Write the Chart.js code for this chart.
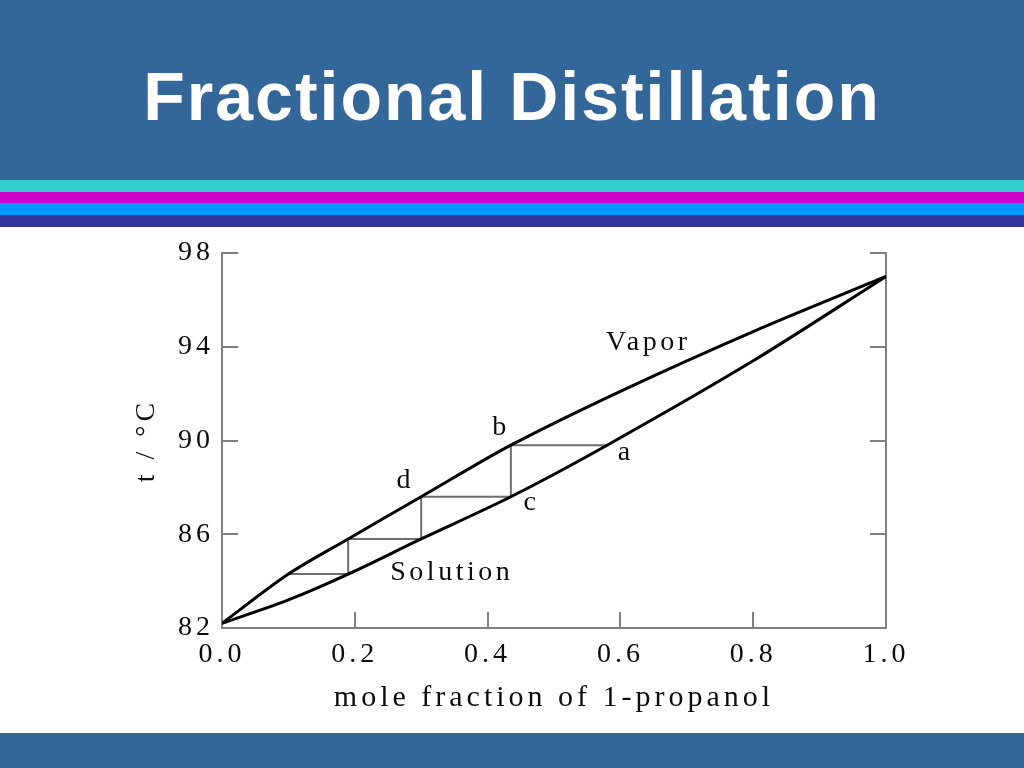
<!DOCTYPE html>
<html>
<head>
<meta charset="utf-8">
<title>Fractional Distillation</title>
<script src="https://cdn.jsdelivr.net/npm/chart.js@4/dist/chart.umd.min.js"></script>
<style>
    html, body {
        margin: 0;
        padding: 0;
        width: 1024px;
        height: 768px;
        overflow: hidden;
        background: #ffffff;
        position: relative;
    }
    .header {
        position: absolute;
        left: 0; top: 0;
        width: 1024px; height: 180px;
        background: #336699;
    }
    .header h1 {
        position: absolute;
        left: 0; top: 62px;
        width: 1024px;
        margin: 0;
        text-align: center;
        font-family: "Liberation Sans", Arial, sans-serif;
        font-weight: bold;
        font-size: 68px;
        line-height: 68px;
        letter-spacing: 2px;
        color: #ffffff;
    }
    .stripe {
        position: absolute;
        left: 0;
        width: 1024px;
    }
    .chart-box {
        position: absolute;
        left: 0; top: 227px;
        width: 1024px; height: 506px;
    }
    .footer {
        position: absolute;
        left: 0; top: 733px;
        width: 1024px; height: 35px;
        background: #336699;
    }
</style>
</head>
<body>
<div class="header"><h1>Fractional Distillation</h1></div>
<div class="stripe" style="top:180px;height:12px;background:#33cccc"></div>
<div class="stripe" style="top:192px;height:11px;background:#cc00cc"></div>
<div class="stripe" style="top:203px;height:12px;background:#0099ff"></div>
<div class="stripe" style="top:215px;height:12px;background:#333399"></div>
<div class="chart-box"><canvas id="distillChart"></canvas></div>
<div class="footer"></div>

<script>
// vapor (upper) curve: mole fraction of 1-propanol vs temperature
const vaporX = [0.0, 0.1, 0.19, 0.3, 0.435, 0.6, 0.8, 1.0];
const vaporT = [82.2, 84.3, 85.8, 87.6, 89.8, 92.1, 94.65, 97.0];

// solution (lower) curve
const solutionX = [0.0, 0.1, 0.19, 0.3, 0.435, 0.58, 0.8, 1.0];
const solutionT = [82.2, 83.2, 84.3, 85.8, 87.6, 89.8, 93.4, 97.0];

// distillation steps a -> b -> c -> d -> ...
const stepX = [0.58, 0.435, 0.435, 0.3, 0.3, 0.19, 0.19, 0.1];
const stepT = [89.8, 89.8, 87.6, 87.6, 85.8, 85.8, 84.3, 84.3];

const xTicks = [0.0, 0.2, 0.4, 0.6, 0.8, 1.0];
const yTicks = [82, 86, 90, 94, 98];

const labelTexts = ['Vapor', 'Solution', 'b', 'a', 'd', 'c'];
const labelX = [0.642, 0.346, 0.42, 0.608, 0.276, 0.466];
const labelT = [94.16, 84.35, 90.53, 89.47, 88.27, 87.33];

const serif = '"Liberation Serif", "Times New Roman", serif';
const axisGray = '#808080';
const inkColor = '#0d0d0d';

function toPoints(xs, ys) {
    return xs.map((x, i) => ({x: x, y: ys[i]}));
}

// wide letter spacing like the scanned figure
const spacingPlugin = {
    id: 'spacing',
    beforeUpdate(chart) { chart.ctx.letterSpacing = '4px'; },
    beforeDraw(chart) { chart.ctx.letterSpacing = '4px'; }
};

// inward tick marks on left, right and bottom axes
const innerTicks = {
    id: 'innerTicks',
    afterDraw(chart) {
        const {ctx, chartArea} = chart;
        const xs = chart.scales.x;
        const ys = chart.scales.y;
        const len = 16;
        ctx.save();
        ctx.strokeStyle = axisGray;
        ctx.lineWidth = 2;
        ctx.beginPath();
        yTicks.slice(1).forEach(v => {
            const py = Math.round(ys.getPixelForValue(v));
            ctx.moveTo(chartArea.left, py);
            ctx.lineTo(chartArea.left + len, py);
            ctx.moveTo(chartArea.right, py);
            ctx.lineTo(chartArea.right - len, py);
        });
        xTicks.slice(1, -1).forEach(v => {
            const px = Math.round(xs.getPixelForValue(v));
            ctx.moveTo(px, chartArea.bottom);
            ctx.lineTo(px, chartArea.bottom - len);
        });
        ctx.stroke();
        ctx.restore();
    }
};

// text labels placed in data units
const curveLabels = {
    id: 'curveLabels',
    afterDatasetsDraw(chart) {
        const {ctx} = chart;
        ctx.save();
        ctx.letterSpacing = '3.5px';
        ctx.font = '28px ' + serif;
        ctx.fillStyle = inkColor;
        ctx.textAlign = 'center';
        ctx.textBaseline = 'middle';
        labelTexts.forEach((t, i) => {
            ctx.fillText(t,
                chart.scales.x.getPixelForValue(labelX[i]),
                chart.scales.y.getPixelForValue(labelT[i]));
        });
        ctx.restore();
    }
};

document.addEventListener('DOMContentLoaded', () => {
    const ctx = document.getElementById('distillChart');
    new Chart(ctx, {
        type: 'scatter',
        data: {
            datasets: [{
                label: 'Vapor',
                data: toPoints(vaporX, vaporT),
                showLine: true,
                borderColor: '#000000',
                borderWidth: 3,
                pointRadius: 0,
                tension: 0.3
            }, {
                label: 'Solution',
                data: toPoints(solutionX, solutionT),
                showLine: true,
                borderColor: '#000000',
                borderWidth: 3,
                pointRadius: 0,
                tension: 0.3
            }, {
                label: 'Steps',
                data: toPoints(stepX, stepT),
                showLine: true,
                borderColor: '#6e6e6e',
                borderWidth: 2,
                pointRadius: 0,
                tension: 0
            }]
        },
        options: {
            responsive: true,
            maintainAspectRatio: false,
            animation: false,
            layout: {padding: {top: 26, left: 0, right: 0, bottom: 0}},
            plugins: {
                legend: {display: false},
                tooltip: {enabled: false}
            },
            scales: {
                x: {
                    type: 'linear',
                    position: 'bottom',
                    min: 0,
                    max: 1,
                    afterFit: s => { s.height = 105; },
                    afterBuildTicks: s => { s.ticks = xTicks.map(v => ({value: v})); },
                    grid: {display: false, drawTicks: false},
                    border: {display: true, color: axisGray, width: 2},
                    ticks: {
                        padding: 10,
                        color: inkColor,
                        font: {family: serif, size: 28},
                        callback: v => v.toFixed(1)
                    },
                    title: {
                        display: true,
                        text: 'mole fraction of 1-propanol',
                        color: inkColor,
                        font: {family: serif, size: 30},
                        padding: {top: 0, bottom: 17}
                    }
                },
                y: {
                    type: 'linear',
                    position: 'left',
                    min: 82,
                    max: 98,
                    afterFit: s => { s.width = 222; },
                    afterBuildTicks: s => { s.ticks = yTicks.map(v => ({value: v})); },
                    grid: {display: false, drawTicks: false},
                    border: {display: true, color: axisGray, width: 2},
                    ticks: {
                        padding: 8,
                        color: inkColor,
                        font: {family: serif, size: 28}
                    },
                    title: {
                        display: true,
                        text: 't / °C',
                        color: inkColor,
                        font: {family: serif, size: 28},
                        padding: {top: 130, bottom: 0}
                    }
                },
                y2: {
                    type: 'linear',
                    position: 'right',
                    min: 82,
                    max: 98,
                    afterFit: s => { s.width = 138; },
                    grid: {display: false, drawTicks: false},
                    border: {display: true, color: axisGray, width: 2},
                    ticks: {display: false}
                }
            }
        },
        plugins: [spacingPlugin, innerTicks, curveLabels]
    });
});
</script>
</body>
</html>
